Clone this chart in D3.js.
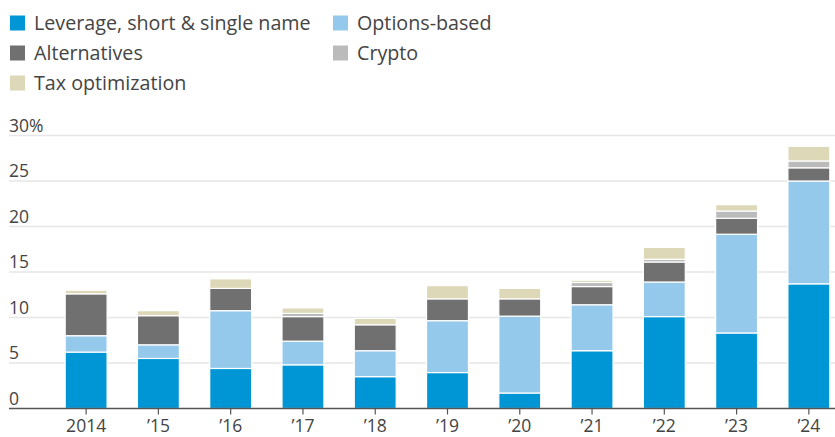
<!DOCTYPE html>
<html>
<head>
<meta charset="utf-8">
<script src="https://cdn.jsdelivr.net/npm/d3@7"></script>
<style>
  body { margin: 0; background: #fff; }
  svg { display: block; font-family: "Open Sans", "Noto Sans", sans-serif; }
  .legend text { font-size: 19.7px; fill: #444; }
  .y-label { font-size: 17.5px; fill: #444; }
  .x.axis text { font-size: 17.5px; fill: #444; font-family: "Open Sans", "Noto Sans", sans-serif; }
  .grid line { stroke: #e6e6e6; stroke-width: 1.5; }
</style>
</head>
<body>
<script>
// Data (% of total)
var years = ["2014", "\u201915", "\u201916", "\u201917", "\u201918", "\u201919", "\u201920", "\u201921", "\u201922", "\u201923", "\u201924"];
var leverage = [6.2, 5.5, 4.4, 4.8, 3.5, 3.95, 1.7, 6.35, 10.1, 8.3, 13.7];
var optionsBased = [1.8, 1.5, 6.35, 2.6, 2.85, 5.7, 8.45, 5.05, 3.8, 10.85, 11.3];
var alternatives = [4.6, 3.2, 2.45, 2.7, 2.85, 2.4, 1.9, 2.0, 2.2, 1.75, 1.45];
var cryptoShare = [0, 0, 0, 0.35, 0, 0, 0, 0.45, 0.3, 0.8, 0.75];
var taxOpt = [0.4, 0.55, 1.05, 0.6, 0.7, 1.45, 1.15, 0.25, 1.3, 0.7, 1.6];
var yTicks = [0, 5, 10, 15, 20, 25, 30];

var seriesNames = ["Leverage, short & single name", "Options-based", "Alternatives", "Crypto", "Tax optimization"];
var seriesKeys = ["leverage", "options", "alternatives", "crypto", "tax"];
var colors = ["#0096d6", "#95c9ec", "#707070", "#bbbbbb", "#dcd8b8"];

var width = 835, height = 437;

var svg = d3.select("body").append("svg")
    .attr("width", width)
    .attr("height", height);

// Build table for the stack
var table = years.map(function(y, i) {
    return { year: y, leverage: leverage[i], options: optionsBased[i], alternatives: alternatives[i], crypto: cryptoShare[i], tax: taxOpt[i] };
});

var stack = d3.stack().keys(seriesKeys)(table);

// Scales
var xScale = d3.scaleBand()
    .domain(years)
    .range([50, 845])
    .paddingInner(0.42)
    .paddingOuter(0.21);

var yScale = d3.scaleLinear()
    .domain([0, 30])
    .range([408.5, 135.5]);

var color = d3.scaleOrdinal().domain(seriesKeys).range(colors);

// Legend
var legendPos = [[10, 23], [333, 23], [10, 53], [333, 53], [10, 83]];
var legend = svg.append("g").attr("class", "legend");
seriesNames.forEach(function(name, i) {
    var g = legend.append("g")
        .attr("transform", "translate(" + legendPos[i][0] + "," + legendPos[i][1] + ")");
    g.append("rect")
        .attr("x", 0).attr("y", -7.5)
        .attr("width", 15).attr("height", 15)
        .attr("fill", colors[i]);
    g.append("text")
        .attr("x", 24)
        .attr("dy", "0.35em")
        .text(name);
});

// Gridlines
var grid = svg.append("g").attr("class", "grid");
grid.selectAll("line")
    .data(yTicks.filter(function(d) { return d > 0; }))
    .enter().append("line")
    .attr("x1", 9).attr("x2", width)
    .attr("y1", function(d) { return yScale(d); })
    .attr("y2", function(d) { return yScale(d); });

// Y labels sit above the gridlines
svg.selectAll(".y-label")
    .data(yTicks)
    .enter().append("text")
    .attr("class", "y-label")
    .attr("x", 9)
    .attr("y", function(d) { return yScale(d) - 4; })
    .text(function(d) { return d === 30 ? "30%" : d; });

// Bars
var layers = svg.selectAll(".layer")
    .data(stack)
    .enter().append("g")
    .attr("class", "layer")
    .attr("fill", function(d) { return color(d.key); });

layers.selectAll("rect")
    .data(function(d) { return d.filter(function(s) { return s[1] - s[0] > 0; }); })
    .enter().append("rect")
    .attr("x", function(d) { return xScale(d.data.year); })
    .attr("width", xScale.bandwidth())
    .attr("y", function(d) { return yScale(d[1]); })
    .attr("height", function(d) { return yScale(d[0]) - yScale(d[1]); })
    .attr("stroke", "#fff")
    .attr("stroke-width", 1.2);

// X axis
var xAxis = d3.axisBottom(xScale).tickSize(6).tickPadding(5).tickSizeOuter(0);
var xg = svg.append("g")
    .attr("class", "x axis")
    .attr("transform", "translate(0," + yScale(0) + ")")
    .call(xAxis);
xg.select(".domain").remove();
xg.selectAll(".tick line").attr("stroke", "#555").attr("stroke-width", 1.2);
xg.selectAll(".tick text").attr("fill", "#444");
xg.append("line")
    .attr("x1", 9).attr("x2", width)
    .attr("stroke", "#555")
    .attr("stroke-width", 1.5);
</script>
</body>
</html>
